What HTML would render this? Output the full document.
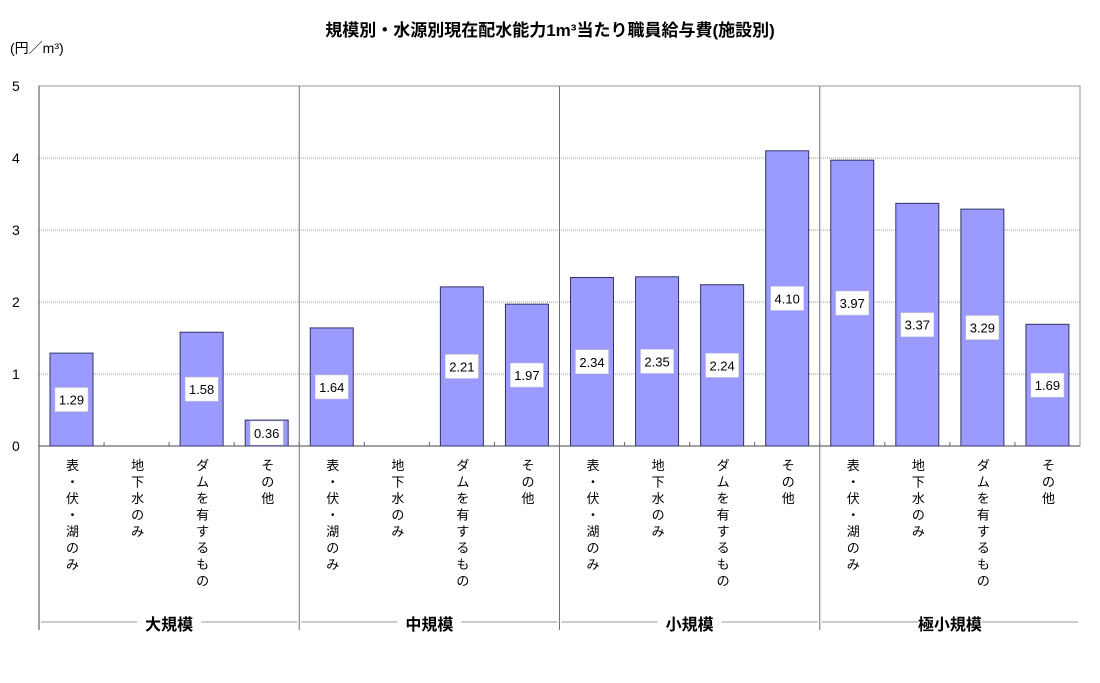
<!DOCTYPE html>
<html><head><meta charset="utf-8">
<style>
body{margin:0;background:#fff;font-family:"Liberation Sans","Noto Sans CJK JP",sans-serif;}
svg text{font-family:"Liberation Sans","Noto Sans CJK JP",sans-serif;}
</style></head>
<body>
<svg id="chart" width="1100" height="678" xmlns="http://www.w3.org/2000/svg">
<text x="550" y="36" text-anchor="middle" font-size="17" font-weight="bold">規模別・水源別現在配水能力1m³当たり職員給与費(施設別)</text>
<text x="10" y="53" font-size="14">(円／m³)</text>
<g id="plot"></g>
</svg>
<script>
const categories=["表・伏・湖のみ","地下水のみ","ダムを有するもの","その他"];
const groups=["大規模","中規模","小規模","極小規模"];
const values=[1.29,0,1.58,0.36, 1.64,0,2.21,1.97, 2.34,2.35,2.24,4.10, 3.97,3.37,3.29,1.69];
const labels=["1.29",null,"1.58","0.36","1.64",null,"2.21","1.97","2.34","2.35","2.24","4.10","3.97","3.37","3.29","1.69"];
const yTicks=[0,1,2,3,4,5];

const NS="http://www.w3.org/2000/svg";
const g=document.getElementById('plot');
const X0=39,X1=1080,Y0=446,YT=86,YMAX=5;
const n=values.length, cw=(X1-X0)/n;
function y(v){return Y0-(v/YMAX)*(Y0-YT);}
function x(i){return X0+i*cw;}
function mk(tag,attrs){const e=document.createElementNS(NS,tag);for(const k in attrs)e.setAttribute(k,attrs[k]);g.appendChild(e);return e;}

yTicks.forEach(t=>{
  if(t>0){const l=mk('line',{x1:X0,x2:X1,y1:y(t),y2:y(t),stroke:'#999','stroke-dasharray':'1,1'});
  
  }
  const tx=mk('text',{x:12,y:y(t)+5,'font-size':14});
  
  
  tx.textContent=t;
});
// frame
const fr=mk('rect',{x:X0,y:YT,width:X1-X0,height:Y0-YT,fill:'none',stroke:'#999'});


const ax=mk('line',{x1:X0,x2:X0,y1:YT,y2:630,stroke:'#444'});


const xa=mk('line',{x1:X0,x2:X1,y1:Y0,y2:Y0,stroke:'#444'});


for(let i=1;i<n;i++){
  const t=mk('line',{x1:x(i),x2:x(i),y1:Y0,y2:Y0-4,stroke:'#666'});
  
  
}
groups.forEach((gn,j)=>{
  const gx0=x(j*4),gx1=x(j*4+4),cx=(gx0+gx1)/2;
  if(j>0){const d=mk('line',{x1:gx0,x2:gx0,y1:YT,y2:630,stroke:'#7a6a8a'});
  
  }
  const l1=mk('line',{x1:gx0+2,x2:cx-32,y1:622,y2:622,stroke:'#999'});
  
  
  const l2=mk('line',{x1:cx+32,x2:gx1-2,y1:622,y2:622,stroke:'#999'});
  
  
  const t=mk('text',{x:cx,y:630,'text-anchor':'middle','font-size':16,'font-weight':'bold'});
  
  
  t.textContent=gn;
});
values.forEach((v,i)=>{
  const bx=x(i)+11,bw=43;
  if(v>0){
    const r=mk('rect',{x:bx,y:y(v),width:bw,height:Y0-y(v),fill:'#9a9aff',stroke:'#333366'});
    
    
  }
  if(labels[i]){
    const my=(y(v)+Y0)/2;
    const b=mk('rect',{x:bx+5,y:my-12,width:bw-10,height:24,fill:'#fff',stroke:'#ccc','stroke-width':0.5});
    
    
    const t=mk('text',{x:bx+bw/2,y:my+5,'text-anchor':'middle','font-size':13});
    
    
    t.textContent=labels[i];
  }
  const cat=categories[i%4];
  const cx=x(i)+cw/2+1;
  [...cat].forEach((ch,k)=>{
    const t=mk('text',{x:cx,y:470+k*16.5,'text-anchor':'middle','font-size':13});
    
    
    t.textContent=ch==='・'?'・':ch;
  });
});
</script>
</body></html>
